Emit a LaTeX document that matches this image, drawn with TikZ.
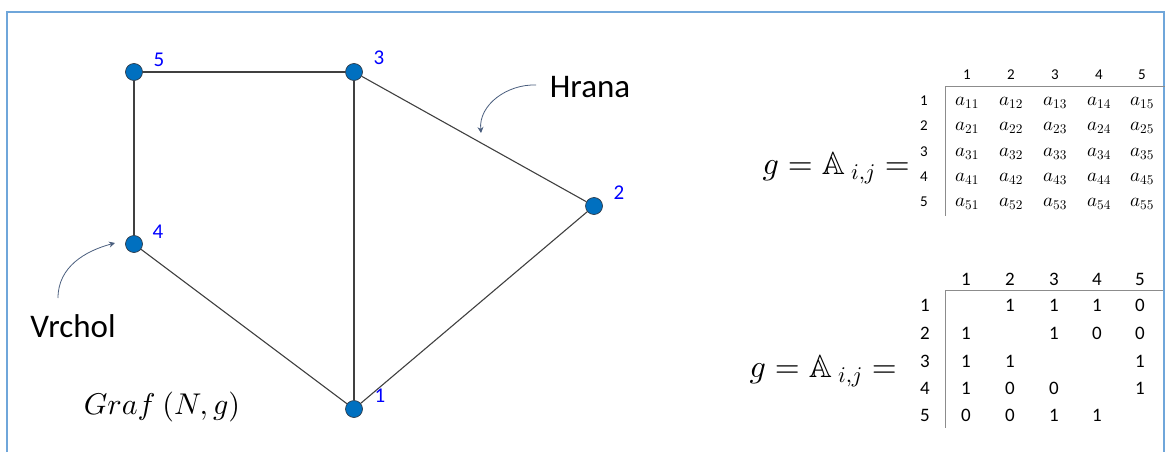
\documentclass[tikz,border=0pt]{standalone}
\usepackage{amssymb}
\DeclareFontFamily{U}{msb}{}
\DeclareFontShape{U}{msb}{m}{n}{<-> msbm10}{}
\DeclareFontShape{OML}{cmm}{m}{it}{<-> cmmi10}{}
\DeclareFontShape{OT1}{cmr}{m}{n}{<-> cmr10}{}
\DeclareFontShape{OMS}{cmsy}{m}{n}{<-> cmsy10}{}
\usepackage{fontspec}
\setmainfont{Carlito}
\usetikzlibrary{arrows.meta}
\definecolor{frameblue}{HTML}{6FA6DA}
\definecolor{vfill}{HTML}{0070C0}
\definecolor{vline}{HTML}{2E3B4A}
\definecolor{edgec}{HTML}{404040}
\definecolor{callout}{HTML}{4A5E7E}
\definecolor{gridc}{HTML}{8C8C8C}
\tikzset{
  vert/.style={circle,fill=vfill,draw=vline,line width=0.7pt,minimum size=17pt,inner sep=0pt},
  vlab/.style={text=blue,font=\fontsize{21}{21}\selectfont,inner sep=0pt},
  edge/.style={draw=edgec,line width=1.1pt},
  callarrow/.style={draw=callout,line width=0.8pt,-{Stealth[length=6pt,width=6pt]}},
  bigtxt/.style={font=\fontsize{33}{33}\selectfont,inner sep=0pt},
  eqn/.style={font=\fontsize{32}{32}\selectfont,inner sep=0pt},
  hdrA/.style={font=\fontsize{15}{15}\selectfont,inner sep=0pt},
  entA/.style={font=\fontsize{19}{19}\selectfont,inner sep=0pt},
  hdrB/.style={font=\fontsize{19}{19}\selectfont,inner sep=0pt},
  tabline/.style={draw=gridc,line width=0.8pt}
}
\begin{document}
\begin{tikzpicture}[x=1pt,y=-1pt]
\useasboundingbox (0,0) rectangle (1166,452);
% frame
\coordinate (f1) at (7,452);
\coordinate (f2) at (7,12);
\coordinate (f3) at (1164,12);
\coordinate (f4) at (1164,452);
\draw[frameblue,line width=2pt] (f1) -- (f2) -- (f3) -- (f4);
% vertices
\node[vert] (v5) at (134,72) {};
\node[vert] (v3) at (354,72) {};
\node[vert] (v4) at (134,244) {};
\node[vert] (v1) at (354,409) {};
\node[vert] (v2) at (594,206) {};
% edges
\path[edge] (v5) -- (v3);
\path[edge] (v5) -- (v4);
\path[edge] (v3) -- (v1);
\path[edge] (v3) -- (v2);
\path[edge] (v4) -- (v1);
\path[edge] (v1) -- (v2);
% vertex labels
\node[vlab] (l5) at (159,60) {5};
\node[vlab] (l3) at (379,58) {3};
\node[vlab] (l4) at (158,232) {4};
\node[vlab] (l1) at (380,396) {1};
\node[vlab] (l2) at (619,193) {2};
% callouts
\node[bigtxt] (vrchol) at (73,326) {Vrchol};
\node[bigtxt] (hrana) at (590,87) {Hrana};
\coordinate (va) at (58,298);
\coordinate (vb) at (115,243);
\draw[callarrow] (va) to[out=90,in=195] (vb);
\coordinate (ha) at (536,85);
\coordinate (hb) at (481,133);
\draw[callarrow] (ha) to[out=178,in=95] (hb);
% graf label
\node[font=\fontsize{30}{30}\selectfont,inner sep=0pt] (graf) at (162,407) {$Graf\ (N,g)$};
% equations
\node[eqn,anchor=east] (eq1) at (910,168) {$g=\mathbb{A}_{\;i,j}=$};
\node[eqn,anchor=east] (eq2) at (897,371) {$g=\mathbb{A}_{\;i,j}=$};
% top table
\coordinate (ta) at (945,86);
\coordinate (tb) at (1165,86);
\coordinate (tc) at (945,216);
\draw[tabline] (ta) -- (tb);
\draw[tabline] (ta) -- (tc);
\foreach \c/\x in {1/967,2/1011,3/1055,4/1099,5/1142}{
  \node[hdrA] (tch\c) at (\x,75) {\c};
}
\foreach \r/\y in {1/101,2/126,3/152,4/177,5/202}{
  \node[hdrA] (trh\r) at (924,\y) {\r};
  \foreach \c/\x in {1/967,2/1011,3/1055,4/1099,5/1142}{
    \node[entA] (ta\r\c) at (\x,\y+2) {$a_{\r\c}$};
  }
}
% bottom table
\coordinate (ba) at (945,290);
\coordinate (bb) at (1163,290);
\coordinate (bc) at (945,428);
\draw[tabline] (ba) -- (bb);
\draw[tabline] (ba) -- (bc);
\foreach \c/\x in {1/966,2/1010,3/1054,4/1097,5/1140}{
  \node[hdrB] (bch\c) at (\x,279) {\c};
}
\foreach \r/\y/\va/\vb/\vc/\vd/\ve in {1/305/{}/1/1/1/0,2/333/1/{}/1/0/0,3/361/1/1/{}/{}/1,4/388/1/0/0/{}/1,5/415/0/0/1/1/{}}{
  \node[hdrB] (brh\r) at (925,\y) {\r};
  \node[hdrB] (b\r1) at (966,\y) {\va};
  \node[hdrB] (b\r2) at (1010,\y) {\vb};
  \node[hdrB] (b\r3) at (1054,\y) {\vc};
  \node[hdrB] (b\r4) at (1097,\y) {\vd};
  \node[hdrB] (b\r5) at (1140,\y) {\ve};
}
\end{tikzpicture}
\end{document}
